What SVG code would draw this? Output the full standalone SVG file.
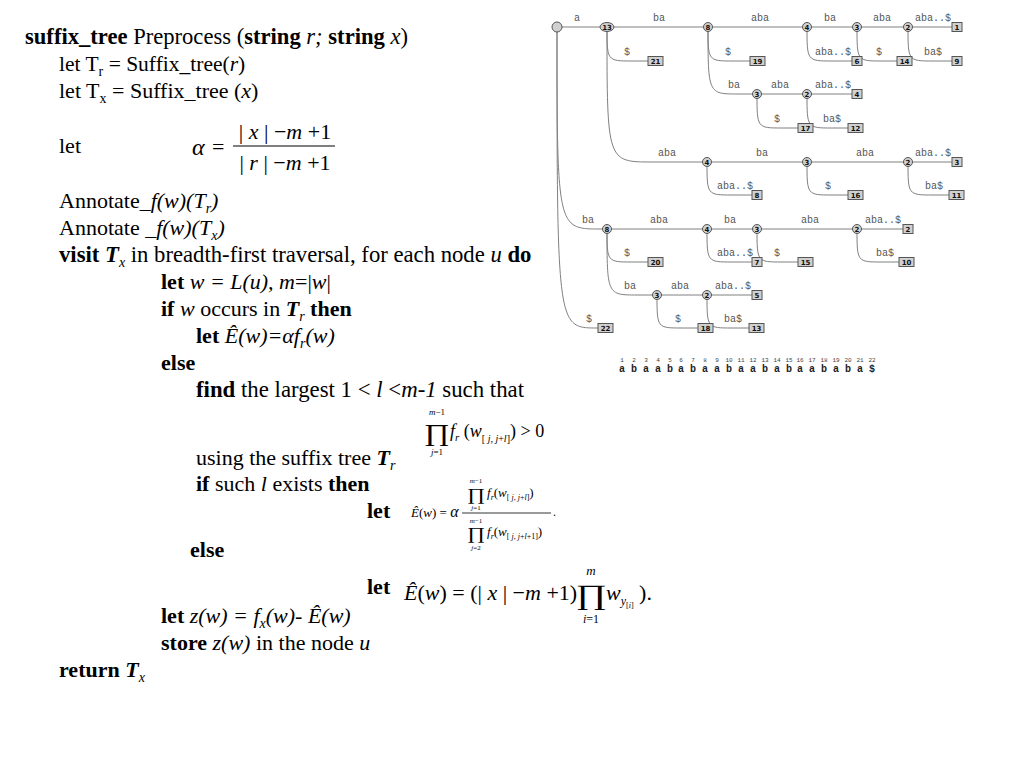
<svg xmlns="http://www.w3.org/2000/svg" width="1024" height="768" viewBox="0 0 1024 768">
<style>
.e{fill:none;stroke:#808080;stroke-width:1}
.lb{font-family:"Liberation Mono",monospace;font-size:10px;fill:#555;text-anchor:middle}
.n{fill:#d0d0d0;stroke:#555;stroke-width:1}
.nt{font-family:"DejaVu Sans",sans-serif;font-size:7px;font-weight:bold;text-anchor:middle;fill:#111}
.lf{fill:#d0d0d0;stroke:#555;stroke-width:1}
.t{font-family:"Liberation Serif",serif;font-size:22px;fill:#000}
.m{font-family:"Liberation Serif",serif;fill:#000}
.b{font-weight:bold}
.i{font-style:italic}
.num{font-family:"Liberation Mono",monospace;font-size:6px;fill:#444;text-anchor:middle}
.ch{font-family:"Liberation Mono",monospace;font-size:10px;font-weight:bold;fill:#222;text-anchor:middle}
</style>
<rect width="1024" height="768" fill="#fff"/>

<g id="pseudocode">
<text class="t" x="25" y="44" style="font-size:22.6px"><tspan class="b">suffix_tree</tspan> Preprocess (<tspan class="b">string</tspan> <tspan class="i">r;</tspan> <tspan class="b">string</tspan> <tspan class="i">x</tspan>)</text>
<text class="t" x="59" y="71" style="font-size:21.5px">let T<tspan font-size="14" dy="5">r</tspan><tspan dy="-5"> = Suffix_tree(</tspan><tspan class="i">r</tspan>)</text>
<text class="t" x="59" y="98" style="font-size:22px">let T<tspan font-size="14" dy="5">x</tspan><tspan dy="-5"> = Suffix_tree (</tspan><tspan class="i">x</tspan>)</text>
<text class="t" x="59" y="153">let</text>
<text class="t" x="59" y="208">Annotate_<tspan class="i">f(w)(T</tspan><tspan class="i" font-size="14" dy="5">r</tspan><tspan class="i" dy="-5">)</tspan></text>
<text class="t" x="59" y="235">Annotate _<tspan class="i">f(w)(T</tspan><tspan class="i" font-size="14" dy="5">x</tspan><tspan class="i" dy="-5">)</tspan></text>
<text class="t" x="59" y="262" style="font-size:22.7px"><tspan class="b">visit</tspan> <tspan class="i b">T</tspan><tspan class="i" font-size="14" dy="5">x</tspan><tspan dy="-5"> in breadth-first traversal, for each node </tspan><tspan class="i">u</tspan> <tspan class="b">do</tspan></text>
<text class="t" x="161" y="289"><tspan class="b">let</tspan> <tspan class="i">w = L(u), m</tspan>=|<tspan class="i">w</tspan>|</text>
<text class="t" x="161" y="316"><tspan class="b">if</tspan> <tspan class="i">w</tspan> occurs in <tspan class="i b">T</tspan><tspan class="i" font-size="14" dy="5">r</tspan><tspan class="b" dy="-5"> then</tspan></text>
<text class="t" x="196" y="343"><tspan class="b">let</tspan> <tspan class="i">Ê(w)=αf</tspan><tspan class="i" font-size="14" dy="5">r</tspan><tspan class="i" dy="-5">(w)</tspan></text>
<text class="t" x="161" y="370"><tspan class="b">else</tspan></text>
<text class="t" x="196" y="397" style="font-size:22.8px"><tspan class="b">find</tspan> the largest 1 &lt; <tspan class="i">l</tspan> &lt;<tspan class="i">m-1</tspan> such that</text>
<text class="t" x="196" y="465">using the suffix tree <tspan class="i b">T</tspan><tspan class="i" font-size="14" dy="5">r</tspan></text>
<text class="t" x="196" y="491"><tspan class="b">if</tspan> such <tspan class="i">l</tspan> exists <tspan class="b">then</tspan></text>
<text class="t" x="367" y="518"><tspan class="b">let</tspan></text>
<text class="t" x="190" y="557"><tspan class="b">else</tspan></text>
<text class="t" x="367" y="594"><tspan class="b">let</tspan></text>
<text class="t" x="161" y="623"><tspan class="b">let</tspan> <tspan class="i">z(w) = f</tspan><tspan class="i" font-size="14" dy="5">x</tspan><tspan class="i" dy="-5">(w)- Ê(w)</tspan></text>
<text class="t" x="161" y="650"><tspan class="b">store</tspan> <tspan class="i">z(w)</tspan> in the node <tspan class="i">u</tspan></text>
<text class="t" x="59" y="677"><tspan class="b">return</tspan> <tspan class="i b">T</tspan><tspan class="i" font-size="14" dy="5">x</tspan></text>
</g>

<g id="formula-alpha">
<text class="m i" x="192" y="155" font-size="24">α</text>
<text class="m" x="212" y="154" font-size="22">=</text>
<line x1="233" y1="146" x2="335" y2="146" stroke="#000" stroke-width="1"/>
<text class="m" x="285" y="139" font-size="22" text-anchor="middle">| <tspan class="i">x</tspan> | −<tspan class="i">m</tspan> +1</text>
<text class="m" x="285" y="170" font-size="22" text-anchor="middle">| <tspan class="i">r</tspan> | −<tspan class="i">m</tspan> +1</text>
</g>

<g id="formula-product">
<text class="m i" x="437" y="415" font-size="9" text-anchor="middle">m<tspan font-style="normal">−1</tspan></text>
<text class="m" font-size="24" text-anchor="middle" transform="translate(437,441) scale(1.3,1)">∏</text>
<text class="m" x="437" y="455" font-size="9" text-anchor="middle"><tspan class="i">j</tspan>=1</text>
<text class="m" x="450" y="437" font-size="18"><tspan class="i">f</tspan><tspan class="i" font-size="11" dy="4">r</tspan><tspan dy="-4"> (</tspan><tspan class="i">w</tspan><tspan font-size="10" dy="5">[ <tspan class="i">j</tspan>, <tspan class="i">j</tspan>+<tspan class="i">l</tspan>]</tspan><tspan dy="-5">) &gt; 0</tspan></text>
</g>

<g id="formula-ratio">
<text class="m" x="411" y="517" font-size="13"><tspan class="i">Ê</tspan>(<tspan class="i">w</tspan>) = <tspan class="i" font-size="16">α</tspan></text>
<line x1="462" y1="513" x2="551" y2="513" stroke="#000" stroke-width="0.8"/>
<text class="m" x="553" y="516" font-size="12">.</text>
<text class="m i" x="476" y="483" font-size="7" text-anchor="middle">m<tspan font-style="normal">−1</tspan></text>
<text class="m" font-size="17" text-anchor="middle" transform="translate(476,500) scale(1.3,1)">∏</text>
<text class="m" x="476" y="510" font-size="7" text-anchor="middle"><tspan class="i">j</tspan>=1</text>
<text class="m" x="487" y="497" font-size="13"><tspan class="i">f</tspan><tspan class="i" font-size="8" dy="3">r</tspan><tspan dy="-3">(</tspan><tspan class="i">w</tspan><tspan font-size="8" dy="3">[ <tspan class="i">j</tspan>, <tspan class="i">j</tspan>+<tspan class="i">l</tspan>]</tspan><tspan dy="-3">)</tspan></text>
<text class="m i" x="476" y="523" font-size="7" text-anchor="middle">m<tspan font-style="normal">−1</tspan></text>
<text class="m" font-size="17" text-anchor="middle" transform="translate(476,539) scale(1.3,1)">∏</text>
<text class="m" x="476" y="550" font-size="7" text-anchor="middle"><tspan class="i">j</tspan>=2</text>
<text class="m" x="487" y="536" font-size="13"><tspan class="i">f</tspan><tspan class="i" font-size="8" dy="3">r</tspan><tspan dy="-3">(</tspan><tspan class="i">w</tspan><tspan font-size="8" dy="3">[ <tspan class="i">j</tspan>, <tspan class="i">j</tspan>+<tspan class="i">l</tspan>+1]</tspan><tspan dy="-3">)</tspan></text>
</g>

<g id="formula-else">
<text class="m" x="404" y="600" font-size="22"><tspan class="i">Ê</tspan>(<tspan class="i">w</tspan>) = (| <tspan class="i">x</tspan> | −<tspan class="i">m</tspan> +1)</text>
<text class="m i" x="591" y="575" font-size="13" text-anchor="middle">m</text>
<text class="m" font-size="28" text-anchor="middle" transform="translate(591,604) scale(1.35,1)">∏</text>
<text class="m" x="591" y="623" font-size="12" text-anchor="middle"><tspan class="i">i</tspan>=1</text>
<text class="m" x="606" y="600" font-size="22"><tspan class="i">w</tspan><tspan class="i" font-size="12" dy="5">y</tspan><tspan font-size="8" dy="3">[<tspan class="i">i</tspan>]</tspan><tspan dy="-8" font-size="22"> ).</tspan></text>
</g>

<g id="connectors">
<path class="e" d="M557 27 L607 27"/>
<path class="e" d="M557 27 C557 229 557 229 600 229 L607 229"/>
<path class="e" d="M557 27 C557 328 557 328 597 328 L605 328"/>
<path class="e" d="M607 27 L708 27"/>
<path class="e" d="M607 27 C607 61 607 61 632 61 L655 61"/>
<path class="e" d="M607 27 C607 162 607 162 652 162 L707 162"/>
<path class="e" d="M708 27 L807 27"/>
<path class="e" d="M708 27 C708 61 708 61 733 61 L757 61"/>
<path class="e" d="M708 27 C708 94 708 94 738 94 L757 94"/>
<path class="e" d="M807 27 L857 27"/>
<path class="e" d="M807 27 C807 61 807 61 832 61 L857 61"/>
<path class="e" d="M857 27 L908 27"/>
<path class="e" d="M857 27 C857 61 857 61 882 61 L904 61"/>
<path class="e" d="M908 27 L957 27"/>
<path class="e" d="M908 27 C908 61 908 61 933 61 L957 61"/>
<path class="e" d="M757 94 L857 94"/>
<path class="e" d="M757 94 C757 128 757 128 782 128 L805 128"/>
<path class="e" d="M807 94 C807 128 807 128 832 128 L855 128"/>
<path class="e" d="M707 162 L957 162"/>
<path class="e" d="M707 162 C707 195 707 195 732 195 L757 195"/>
<path class="e" d="M807 162 C807 195 807 195 832 195 L855 195"/>
<path class="e" d="M908 162 C908 195 908 195 933 195 L956 195"/>
<path class="e" d="M607 229 L908 229"/>
<path class="e" d="M607 229 C607 262 607 262 632 262 L655 262"/>
<path class="e" d="M607 229 C607 295 607 295 637 295 L657 295"/>
<path class="e" d="M707 229 C707 262 707 262 732 262 L757 262"/>
<path class="e" d="M757 229 C757 262 757 262 782 262 L805 262"/>
<path class="e" d="M857 229 C857 262 857 262 882 262 L906 262"/>
<path class="e" d="M657 295 L757 295"/>
<path class="e" d="M657 295 C657 328 657 328 682 328 L705 328"/>
<path class="e" d="M707 295 C707 328 707 328 732 328 L756 328"/>
</g>

<g id="edge-labels">
<text class="lb" x="577" y="21">a</text>
<text class="lb" x="659" y="21">ba</text>
<text class="lb" x="760" y="21">aba</text>
<text class="lb" x="830" y="21">ba</text>
<text class="lb" x="882" y="21">aba</text>
<text class="lb" x="933" y="21">aba..$</text>
<text class="lb" x="627" y="55">$</text>
<text class="lb" x="728" y="55">$</text>
<text class="lb" x="833" y="55">aba..$</text>
<text class="lb" x="879" y="55">$</text>
<text class="lb" x="933" y="55">ba$</text>
<text class="lb" x="734" y="88">ba</text>
<text class="lb" x="780" y="88">aba</text>
<text class="lb" x="833" y="88">aba..$</text>
<text class="lb" x="777" y="122">$</text>
<text class="lb" x="832" y="122">ba$</text>
<text class="lb" x="667" y="156">aba</text>
<text class="lb" x="762" y="156">ba</text>
<text class="lb" x="865" y="156">aba</text>
<text class="lb" x="933" y="156">aba..$</text>
<text class="lb" x="735" y="189">aba..$</text>
<text class="lb" x="828" y="189">$</text>
<text class="lb" x="934" y="189">ba$</text>
<text class="lb" x="588" y="223">ba</text>
<text class="lb" x="659" y="223">aba</text>
<text class="lb" x="730" y="223">ba</text>
<text class="lb" x="810" y="223">aba</text>
<text class="lb" x="883" y="223">aba..$</text>
<text class="lb" x="627" y="256">$</text>
<text class="lb" x="735" y="256">aba..$</text>
<text class="lb" x="777" y="256">$</text>
<text class="lb" x="885" y="256">ba$</text>
<text class="lb" x="630" y="289">ba</text>
<text class="lb" x="680" y="289">aba</text>
<text class="lb" x="733" y="289">aba..$</text>
<text class="lb" x="589" y="322">$</text>
<text class="lb" x="678" y="322">$</text>
<text class="lb" x="733" y="322">ba$</text>
</g>

<g id="root"><circle class="n" cx="557" cy="27" r="5"/></g>
<g id="n13"><ellipse class="n" cx="607" cy="27" rx="7" ry="4.5"/><text class="nt" x="607" y="29.5">13</text></g>
<g id="n8a"><circle class="n" cx="708" cy="27" r="4.5"/><text class="nt" x="708" y="29.5">8</text></g>
<g id="n4a"><circle class="n" cx="807" cy="27" r="4.5"/><text class="nt" x="807" y="29.5">4</text></g>
<g id="n3a"><circle class="n" cx="857" cy="27" r="4.5"/><text class="nt" x="857" y="29.5">3</text></g>
<g id="n2a"><circle class="n" cx="908" cy="27" r="4.5"/><text class="nt" x="908" y="29.5">2</text></g>
<g id="n3b"><circle class="n" cx="757" cy="94" r="4.5"/><text class="nt" x="757" y="96.5">3</text></g>
<g id="n2b"><circle class="n" cx="807" cy="94" r="4.5"/><text class="nt" x="807" y="96.5">2</text></g>
<g id="n4c"><circle class="n" cx="707" cy="162" r="4.5"/><text class="nt" x="707" y="164.5">4</text></g>
<g id="n3c"><circle class="n" cx="807" cy="162" r="4.5"/><text class="nt" x="807" y="164.5">3</text></g>
<g id="n2c"><circle class="n" cx="908" cy="162" r="4.5"/><text class="nt" x="908" y="164.5">2</text></g>
<g id="n8d"><circle class="n" cx="607" cy="229" r="4.5"/><text class="nt" x="607" y="231.5">8</text></g>
<g id="n4d"><circle class="n" cx="707" cy="229" r="4.5"/><text class="nt" x="707" y="231.5">4</text></g>
<g id="n3d"><circle class="n" cx="757" cy="229" r="4.5"/><text class="nt" x="757" y="231.5">3</text></g>
<g id="n2d"><circle class="n" cx="857" cy="229" r="4.5"/><text class="nt" x="857" y="231.5">2</text></g>
<g id="n3e"><circle class="n" cx="657" cy="295" r="4.5"/><text class="nt" x="657" y="297.5">3</text></g>
<g id="n2e"><circle class="n" cx="707" cy="295" r="4.5"/><text class="nt" x="707" y="297.5">2</text></g>

<g id="leaf1"><rect class="lf" x="952" y="22.5" width="10" height="9"/><text class="nt" x="957" y="30">1</text></g>
<g id="leaf21"><rect class="lf" x="648" y="56.5" width="15" height="9"/><text class="nt" x="655.5" y="64">21</text></g>
<g id="leaf19"><rect class="lf" x="750" y="56.5" width="15" height="9"/><text class="nt" x="757.5" y="64">19</text></g>
<g id="leaf6"><rect class="lf" x="852" y="56.5" width="10" height="9"/><text class="nt" x="857" y="64">6</text></g>
<g id="leaf14"><rect class="lf" x="897" y="56.5" width="15" height="9"/><text class="nt" x="904.5" y="64">14</text></g>
<g id="leaf9"><rect class="lf" x="952" y="56.5" width="10" height="9"/><text class="nt" x="957" y="64">9</text></g>
<g id="leaf4"><rect class="lf" x="852" y="89.5" width="10" height="9"/><text class="nt" x="857" y="97">4</text></g>
<g id="leaf17"><rect class="lf" x="798" y="123.5" width="15" height="9"/><text class="nt" x="805.5" y="131">17</text></g>
<g id="leaf12"><rect class="lf" x="848" y="123.5" width="15" height="9"/><text class="nt" x="855.5" y="131">12</text></g>
<g id="leaf3"><rect class="lf" x="952" y="157.5" width="10" height="9"/><text class="nt" x="957" y="165">3</text></g>
<g id="leaf8"><rect class="lf" x="752" y="190.5" width="10" height="9"/><text class="nt" x="757" y="198">8</text></g>
<g id="leaf16"><rect class="lf" x="848" y="190.5" width="15" height="9"/><text class="nt" x="855.5" y="198">16</text></g>
<g id="leaf11"><rect class="lf" x="949" y="190.5" width="15" height="9"/><text class="nt" x="956.5" y="198">11</text></g>
<g id="leaf2"><rect class="lf" x="903" y="224.5" width="10" height="9"/><text class="nt" x="908" y="232">2</text></g>
<g id="leaf20"><rect class="lf" x="648" y="257.5" width="15" height="9"/><text class="nt" x="655.5" y="265">20</text></g>
<g id="leaf7"><rect class="lf" x="752" y="257.5" width="10" height="9"/><text class="nt" x="757" y="265">7</text></g>
<g id="leaf15"><rect class="lf" x="798" y="257.5" width="15" height="9"/><text class="nt" x="805.5" y="265">15</text></g>
<g id="leaf10"><rect class="lf" x="899" y="257.5" width="15" height="9"/><text class="nt" x="906.5" y="265">10</text></g>
<g id="leaf5"><rect class="lf" x="752" y="290.5" width="10" height="9"/><text class="nt" x="757" y="298">5</text></g>
<g id="leaf22"><rect class="lf" x="598" y="323.5" width="15" height="9"/><text class="nt" x="605.5" y="331">22</text></g>
<g id="leaf18"><rect class="lf" x="698" y="323.5" width="15" height="9"/><text class="nt" x="705.5" y="331">18</text></g>
<g id="leaf13"><rect class="lf" x="749" y="323.5" width="15" height="9"/><text class="nt" x="756.5" y="331">13</text></g>

<g id="string">
<text class="num" x="622" y="362">1</text><text class="num" x="634" y="362">2</text><text class="num" x="646" y="362">3</text><text class="num" x="658" y="362">4</text><text class="num" x="670" y="362">5</text><text class="num" x="681" y="362">6</text><text class="num" x="693" y="362">7</text><text class="num" x="705" y="362">8</text><text class="num" x="717" y="362">9</text><text class="num" x="729" y="362">10</text><text class="num" x="741" y="362">11</text><text class="num" x="753" y="362">12</text><text class="num" x="765" y="362">13</text><text class="num" x="777" y="362">14</text><text class="num" x="789" y="362">15</text><text class="num" x="800" y="362">16</text><text class="num" x="812" y="362">17</text><text class="num" x="824" y="362">18</text><text class="num" x="836" y="362">19</text><text class="num" x="848" y="362">20</text><text class="num" x="860" y="362">21</text><text class="num" x="872" y="362">22</text>
<text class="ch" x="622" y="372">a</text><text class="ch" x="634" y="372">b</text><text class="ch" x="646" y="372">a</text><text class="ch" x="658" y="372">a</text><text class="ch" x="670" y="372">b</text><text class="ch" x="681" y="372">a</text><text class="ch" x="693" y="372">b</text><text class="ch" x="705" y="372">a</text><text class="ch" x="717" y="372">a</text><text class="ch" x="729" y="372">b</text><text class="ch" x="741" y="372">a</text><text class="ch" x="753" y="372">a</text><text class="ch" x="765" y="372">b</text><text class="ch" x="777" y="372">a</text><text class="ch" x="789" y="372">b</text><text class="ch" x="800" y="372">a</text><text class="ch" x="812" y="372">a</text><text class="ch" x="824" y="372">b</text><text class="ch" x="836" y="372">a</text><text class="ch" x="848" y="372">b</text><text class="ch" x="860" y="372">a</text><text class="ch" x="872" y="372">$</text>
</g>
</svg>
